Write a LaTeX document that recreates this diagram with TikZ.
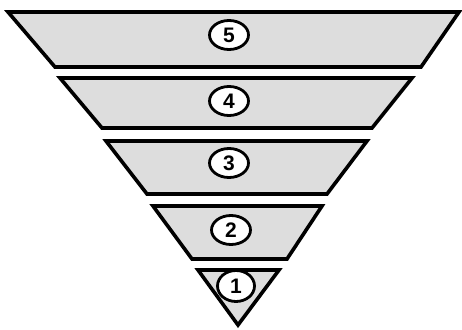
\documentclass[tikz,border=0pt]{standalone}
\usepackage{fontspec}
\setmainfont{Liberation Sans}
\usetikzlibrary{shapes.geometric}
\definecolor{layergray}{HTML}{DDDDDD}
\tikzset{
  layer/.style={draw=black, fill=layergray, line width=3.6pt, line join=miter},
  num/.style={ellipse, draw=black, fill=white, line width=2.8pt, minimum width=39pt, minimum height=29pt, inner sep=0pt, font=\fontsize{21}{21}\selectfont\bfseries}
}
\begin{document}
\begin{tikzpicture}[x=1pt,y=-1pt]
\useasboundingbox (0,0) rectangle (462,329);
\draw[layer] (8,12) -- (459,12) -- (421,67) -- (55,67) -- cycle;
\draw[layer] (60,78) -- (412,78) -- (372,128) -- (102,128) -- cycle;
\draw[layer] (106,141) -- (367,141) -- (327,194) -- (147,194) -- cycle;
\draw[layer] (153,206) -- (322,206) -- (287,259) -- (192,259) -- cycle;
\draw[layer] (198,270) -- (279,270) -- (238,325) -- cycle;
\node[num] (n5) at (229,35) {5};
\node[num] (n4) at (229,101) {4};
\node[num] (n3) at (229,163) {3};
\node[num] (n2) at (231,230) {2};
\node[num, minimum width=37pt, minimum height=31pt] (n1) at (236,286) {1};
\end{tikzpicture}
\end{document}
